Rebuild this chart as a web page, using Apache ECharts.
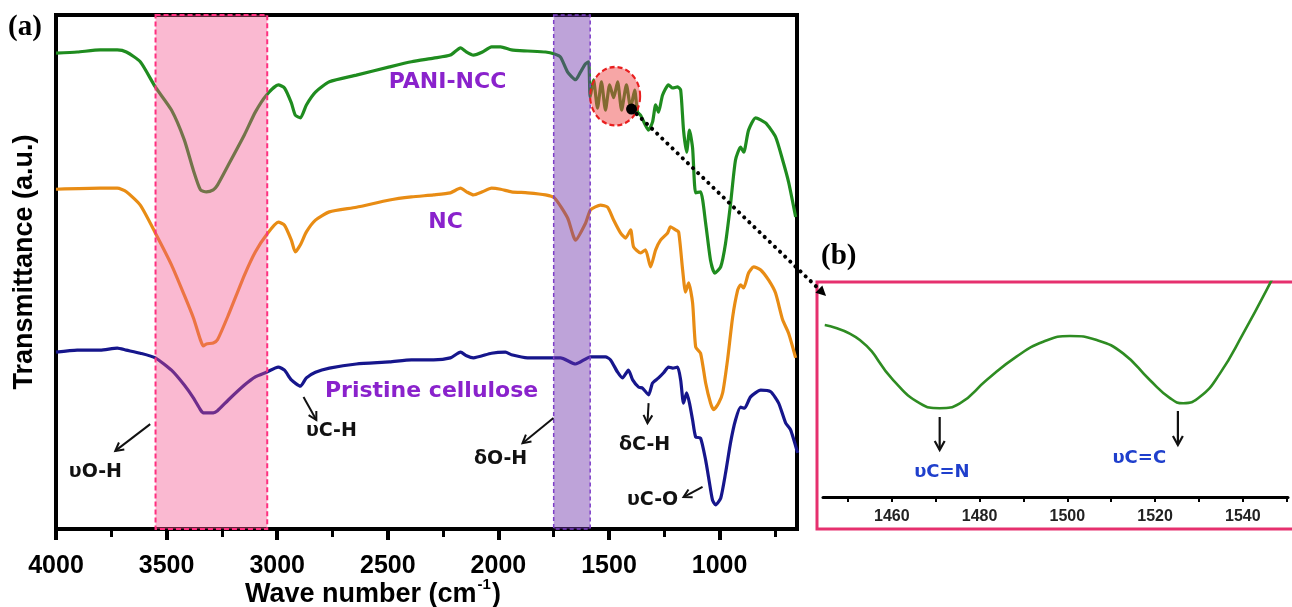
<!DOCTYPE html>
<html><head><meta charset="utf-8">
<script src="https://cdn.jsdelivr.net/npm/echarts@6/dist/echarts.min.js"></script>
<style>html,body{margin:0;padding:0;background:#fff}#c{width:1292px;height:607px}</style>
</head><body><div id="c"></div>
<script>
// ---------- DATA (wavenumber cm-1, transmittance a.u.) ----------
const greenPANI = [[4000,92.6],[3904,92.8],[3800,93.2],[3723,93.2],[3682,92.8],[3619,90.9],[3551,86.0],[3478,81.5],[3420,75.7],[3379,69.8],[3347,66.0],[3320,65.6],[3289,66.0],[3270,66.9],[3221,70.8],[3148,76.7],[3099,81.1],[3049,84.4],[2995,86.4],[2967,85.8],[2936,82.9],[2918,80.5],[2895,80.0],[2868,82.5],[2827,85.0],[2764,87.0],[2642,88.3],[2492,89.9],[2393,90.9],[2293,91.6],[2217,92.2],[2171,93.6],[2144,92.8],[2113,92.2],[2072,92.8],[2031,93.8],[1990,93.8],[1941,93.2],[1868,93.0],[1787,92.8],[1746,92.4],[1719,91.8],[1687,88.9],[1651,87.4],[1629,88.9],[1606,90.5],[1592,90.9],[1585,84.0],[1570,87.4],[1552,81.9],[1534,87.0],[1516,81.5],[1497,86.4],[1479,83.9],[1461,87.0],[1443,81.5],[1421,86.4],[1402,81.9],[1384,85.4],[1371,81.1],[1357,80.5],[1321,77.6],[1303,79.2],[1289,82.5],[1276,81.1],[1258,84.4],[1231,86.4],[1212,85.8],[1190,86.0],[1176,85.4],[1163,77.6],[1149,73.3],[1136,77.6],[1122,74.1],[1108,65.4],[1086,65.6],[1063,59.5],[1041,52.3],[1022,49.8],[995,51.0],[973,55.6],[950,63.4],[928,71.8],[905,74.3],[891,73.3],[869,77.6],[837,80.0],[792,79.0],[747,76.3],[715,71.8],[688,67.5],[656,60.7]];
const orangeNC = [[4000,66.1],[3800,66.3],[3723,66.3],[3682,65.6],[3619,63.0],[3551,57.6],[3478,51.4],[3420,45.5],[3379,41.1],[3347,36.8],[3334,35.6],[3320,36.0],[3289,36.2],[3270,36.8],[3221,41.6],[3148,49.4],[3099,53.9],[3049,57.2],[2995,59.7],[2967,59.1],[2936,56.2],[2918,53.9],[2895,55.3],[2868,57.8],[2827,60.1],[2764,61.7],[2642,62.6],[2492,64.0],[2393,64.6],[2293,65.0],[2217,65.4],[2171,66.3],[2144,65.6],[2113,65.0],[2072,65.6],[2031,66.3],[1990,66.1],[1941,65.6],[1868,65.4],[1787,65.0],[1746,64.4],[1687,60.5],[1651,56.2],[1606,59.5],[1583,62.1],[1538,63.0],[1506,62.6],[1479,60.1],[1448,57.6],[1425,56.6],[1402,58.2],[1389,54.9],[1357,53.7],[1335,54.3],[1312,51.0],[1289,54.3],[1267,56.2],[1235,57.6],[1222,58.8],[1199,58.2],[1185,57.8],[1167,50.4],[1154,46.1],[1140,47.9],[1122,44.0],[1108,35.4],[1086,34.2],[1063,28.4],[1041,24.5],[1027,23.2],[1004,24.5],[986,26.5],[964,32.9],[941,41.2],[918,46.5],[905,47.5],[891,46.9],[869,49.8],[846,51.0],[814,50.4],[778,48.4],[747,45.9],[715,40.7],[688,38.1],[656,33.3]];
const bluePristine = [[4000,34.4],[3904,34.8],[3800,34.8],[3723,35.2],[3682,34.8],[3619,34.2],[3551,33.3],[3478,30.9],[3420,28.0],[3379,25.5],[3347,23.2],[3334,22.6],[3289,22.6],[3270,23.0],[3221,25.1],[3148,28.0],[3099,29.6],[3049,30.5],[2995,31.5],[2967,30.9],[2936,29.0],[2895,27.8],[2868,29.4],[2827,30.5],[2764,31.3],[2642,32.1],[2492,32.5],[2393,32.9],[2293,32.9],[2217,33.3],[2171,34.4],[2144,33.7],[2113,33.3],[2031,34.2],[1968,34.4],[1941,33.9],[1868,33.3],[1787,33.3],[1719,33.3],[1651,32.1],[1583,33.5],[1516,33.5],[1493,32.9],[1461,30.5],[1439,29.4],[1412,30.9],[1393,29.0],[1366,27.6],[1348,27.4],[1321,26.1],[1303,28.4],[1276,29.4],[1253,30.4],[1231,31.5],[1212,31.3],[1190,31.5],[1176,29.0],[1163,24.5],[1149,26.5],[1136,24.5],[1122,21.2],[1108,17.9],[1086,17.7],[1063,13.4],[1050,10.1],[1032,5.6],[1018,4.7],[995,6.0],[973,10.9],[950,16.9],[928,21.2],[905,23.7],[887,23.5],[860,25.7],[814,27.0],[769,26.7],[733,24.5],[701,20.6],[679,19.3],[647,14.8]];
const insetPANI = [[1444.7,80.0],[1452.7,73.0],[1460.3,54.4],[1466.4,43.6],[1470.9,41.3],[1475.5,43.6],[1481.6,54.4],[1488.4,65.3],[1494.5,72.2],[1500.6,74.9],[1506.7,73.0],[1512.7,66.8],[1518.8,54.4],[1523.4,46.0],[1526.4,43.6],[1530.3,46.7],[1534.8,57.5],[1540.1,76.1],[1546.2,99.4],[1550,115]];
const mainMajorTicks = [1000,1500,2000,2500,3000,3500,4000];
const mainMinorTicks = [750,1250,1750,2250,2750,3250,3750];
const insetLabelTicks = [1460,1480,1500,1520,1540];
const insetAllTicks = [1450,1460,1470,1480,1490,1500,1510,1520,1530,1540,1550];
const pinkBand = [3550, 3045];
const purpleBand = [1750, 1585];
const sampleNames = ['PANI-NCC','NC','Pristine cellulose'];

// ---------- ANNOTATION ANCHORS (data coordinates) ----------
const sampleAnchors = [[2230,87.0],[2239,59.7],[2302,26.8]];
const peakNotes = [
  {text:'υO-H', at:[3822,11.1], from:[3574,20.4], to:[3732,15.2]},
  {text:'υC-H', at:[2755,19.1], from:[2881,25.7], to:[2823,21.2]},
  {text:'δO-H', at:[1990,13.6], from:[1751,21.6], to:[1891,16.7]},
  {text:'δC-H', at:[1339,16.3], from:[1321,24.5], to:[1326,20.6]},
  {text:'υC-O', at:[1303,5.6],  from:[1077,8.2],  to:[1163,6.2]}
];
const insetNotes = [
  {text:'υC=N', at:[1471.4,11.6], from:[1470.9,37.2], to:[1470.9,21.9]},
  {text:'υC=C', at:[1516.4,18.1], from:[1525.2,40.0], to:[1525.2,24.2]}
];
const zoomCircleAt = [1472,84.2];
const zoomDotAt = [1398,81.7];
const connectorEndInset = [1445,93.5];

const SANS = '"Liberation Sans", Arial, sans-serif';
const DEJA = '"DejaVu Sans", Verdana, sans-serif';
const SERIF = '"Liberation Serif", "Times New Roman", serif';
const plain = v => String(v);

const chart = echarts.init(document.getElementById('c'), null, {renderer:'canvas'});
const option = {
  animation:false,
  backgroundColor:'#fff',
  grid:[
    {left:56, top:15, width:741, height:514, show:true, borderColor:'#000', borderWidth:4, backgroundColor:'transparent'},
    {left:823, top:282, width:465, height:215, show:false}
  ],
  xAxis:[
    {gridIndex:0, type:'value', inverse:true, min:650, max:4000, position:'bottom',
     axisLine:{show:false}, splitLine:{show:false},
     axisTick:{show:true, customValues:mainMajorTicks, length:11, lineStyle:{color:'#000', width:4}},
     axisLabel:{show:true, customValues:mainMajorTicks, formatter:plain, margin:25, color:'#000', fontSize:25, fontWeight:'bold', fontFamily:SANS}},
    {gridIndex:0, type:'value', inverse:true, min:650, max:4000, position:'bottom',
     axisLine:{show:false}, splitLine:{show:false},
     axisTick:{show:true, customValues:mainMinorTicks, length:8, lineStyle:{color:'#000', width:3}},
     axisLabel:{show:false}},
    {gridIndex:1, type:'value', min:1444.3, max:1550.3, position:'bottom',
     axisLine:{show:true, lineStyle:{color:'#000', width:3}}, splitLine:{show:false},
     axisTick:{show:true, customValues:insetAllTicks, length:5, lineStyle:{color:'#000', width:2}},
     axisLabel:{show:true, customValues:insetLabelTicks, formatter:plain, margin:12, color:'#222', fontSize:16, fontWeight:'bold', fontFamily:SANS}}
  ],
  yAxis:[
    {gridIndex:0, type:'value', min:0, max:100, show:false},
    {gridIndex:1, type:'value', min:0, max:100, show:false}
  ],
  series:[
    {name:sampleNames[0], type:'line', xAxisIndex:0, yAxisIndex:0, data:greenPANI, showSymbol:false, smooth:0.2,
     lineStyle:{color:'#1f8c1f', width:3.2}, z:3},
    {name:sampleNames[1], type:'line', xAxisIndex:0, yAxisIndex:0, data:orangeNC, showSymbol:false, smooth:0.2,
     lineStyle:{color:'#e88c14', width:3.2}, z:3},
    {name:sampleNames[2], type:'line', xAxisIndex:0, yAxisIndex:0, data:bluePristine, showSymbol:false, smooth:0.2,
     lineStyle:{color:'#16168c', width:3.2}, z:3},
    {name:'inset', type:'line', xAxisIndex:2, yAxisIndex:1, data:insetPANI, showSymbol:false, smooth:true,
     lineStyle:{color:'#2e8c22', width:2.6}, z:3}
  ]
};
chart.setOption(option);

const P = (d) => chart.convertToPixel({seriesIndex:0}, d);
const Q = (d) => chart.convertToPixel({seriesIndex:3}, d);

function arrowV(a, b, head, color, lw) {
  const dx=b[0]-a[0], dy=b[1]-a[1], len=Math.hypot(dx,dy), ux=dx/len, uy=dy/len;
  const h=head, w=head*0.55;
  const base=[b[0]-ux*h, b[1]-uy*h];
  return [
    {type:'line', z:30, shape:{x1:a[0],y1:a[1],x2:b[0],y2:b[1]}, style:{stroke:color,lineWidth:lw}},
    {type:'polyline', z:30, shape:{points:[[base[0]-uy*w, base[1]+ux*w], b, [base[0]+uy*w, base[1]-ux*w]]},
     style:{stroke:color, lineWidth:lw, fill:null}}
  ];
}
function txt(p, text, font, color, extra) {
  return Object.assign({type:'text', z:40, x:p[0], y:p[1],
    style:{text:text, font:font, fill:color, textAlign:'center', textVerticalAlign:'middle', align:'center', verticalAlign:'middle'}}, extra||{});
}

const g = [];
// bands
[[pinkBand,'rgba(242,80,140,0.40)','#ff2f7f',[5,3],2],[purpleBand,'rgba(110,50,170,0.45)','#7d3fc8',[4,3],1.5]].forEach(([b,fill,stroke,dash,lw])=>{
  const p1=P([b[0],100]), p2=P([b[1],0]);
  g.push({type:'rect', z:10, shape:{x:Math.min(p1[0],p2[0]), y:p1[1], width:Math.abs(p2[0]-p1[0]), height:p2[1]-p1[1]},
    style:{fill:fill, stroke:stroke, lineWidth:lw, lineDash:dash}});
});
// zoom circle
const cc = P(zoomCircleAt);
g.push({type:'circle', z:12, x:cc[0], y:cc[1], scaleY:1.17, shape:{cx:0, cy:0, r:25},
  style:{fill:'rgba(238,70,70,0.48)', stroke:'#e81e1e', lineWidth:2, lineDash:[5,3]}});
// connector dotted
const d0 = P(zoomDotAt), d1 = Q(connectorEndInset);
{
  const dx=d1[0]-d0[0], dy=d1[1]-d0[1], len=Math.hypot(dx,dy), ux=dx/len, uy=dy/len;
  const base=[d1[0]-ux*10, d1[1]-uy*10];
  g.push({type:'line', z:14, shape:{x1:d0[0],y1:d0[1],x2:base[0],y2:base[1]}, style:{stroke:'#000', lineWidth:4, lineDash:[0.1,7], lineCap:'round'}});
  g.push({type:'polygon', z:14, shape:{points:[d1,[base[0]-uy*5, base[1]+ux*5],[base[0]+uy*5, base[1]-ux*5]]}, style:{fill:'#000'}});
  g.push({type:'circle', z:15, shape:{cx:d0[0], cy:d0[1], r:5.5}, style:{fill:'#000'}});
}
// sample labels
sampleNames.forEach((n,i)=> g.push(txt(P(sampleAnchors[i]), n, 'bold 22px '+DEJA, '#8a22cc')));
// peak notes
peakNotes.forEach(n=>{
  g.push(txt(P(n.at), n.text, 'bold 19px '+DEJA, '#111'));
  arrowV(P(n.from), P(n.to), 8, '#111', 2).forEach(e=>g.push(e));
});
insetNotes.forEach(n=>{
  g.push(txt(Q(n.at), n.text, 'bold 18px '+DEJA, '#1f3fcc'));
  arrowV(Q(n.from), Q(n.to), 9, '#111', 2.2).forEach(e=>g.push(e));
});
// inset frame
g.push({type:'rect', z:1, shape:{x:817, y:282, width:490, height:247}, style:{fill:null, stroke:'#e6306e', lineWidth:3}});
// panel letters
g.push({type:'text', z:40, x:8, y:28, style:{text:'(a)', font:'bold 29px '+SERIF, fill:'#000', textVerticalAlign:'middle', verticalAlign:'middle'}});
g.push({type:'text', z:40, x:821, y:257, style:{text:'(b)', font:'bold 29px '+SERIF, fill:'#000', textVerticalAlign:'middle', verticalAlign:'middle'}});
// axis titles
g.push({type:'text', z:40, x:25, y:262, rotation:Math.PI/2,
  style:{text:'Transmittance (a.u.)', font:'bold 27px '+SANS, fill:'#000', textAlign:'center', textVerticalAlign:'middle', align:'center', verticalAlign:'middle'}});
{
  const ctx = document.createElement('canvas').getContext('2d');
  const f1='bold 27px '+SANS, f2='bold 15px '+SANS;
  ctx.font=f1; const w1=ctx.measureText('Wave number (cm').width;
  ctx.font=f2; const w2=ctx.measureText('-1').width;
  const x0=245, yb=595;
  g.push({type:'text', z:40, x:x0, y:yb, style:{text:'Wave number (cm', font:f1, fill:'#000', textVerticalAlign:'middle', verticalAlign:'middle'}});
  g.push({type:'text', z:40, x:x0+w1+1, y:yb-10, style:{text:'-1', font:f2, fill:'#000', textVerticalAlign:'middle', verticalAlign:'middle'}});
  g.push({type:'text', z:40, x:x0+w1+w2+2, y:yb, style:{text:')', font:f1, fill:'#000', textVerticalAlign:'middle', verticalAlign:'middle'}});
}
chart.setOption({graphic:{elements:g}});
</script></body></html>
